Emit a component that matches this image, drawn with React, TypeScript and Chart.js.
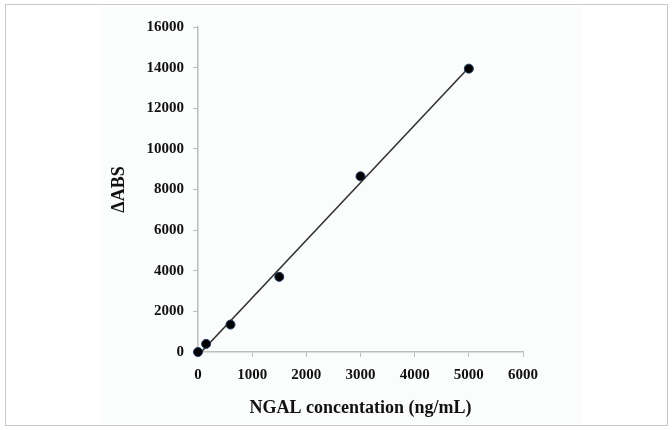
import React, { useEffect, useRef } from "react";
import { Chart, registerables } from "chart.js";

Chart.register(...registerables);

const concentrations = [0, 150, 600, 1500, 3000, 5000];
const absValues = [0, 400, 1350, 3700, 8650, 13950];
const xTickMax = 6000;
const yTickMax = 16000;
const xTitle = "NGAL concentation (ng/mL)";
const yTitle = "\u0394ABS";

function fitLine(xs: number[], ys: number[]) {
  const n = xs.length;
  const mx = xs.reduce((a, b) => a + b, 0) / n;
  const my = ys.reduce((a, b) => a + b, 0) / n;
  let sxy = 0, sxx = 0;
  for (let i = 0; i < n; i++) {
    sxy += (xs[i] - mx) * (ys[i] - my);
    sxx += (xs[i] - mx) * (xs[i] - mx);
  }
  const slope = sxy / sxx;
  const intercept = my - slope * mx;
  return { slope, intercept };
}

export default function App() {
  const ref = useRef<HTMLCanvasElement | null>(null);
  useEffect(() => {
    document.body.style.margin = "0";
    const { slope, intercept } = fitLine(concentrations, absValues);
    const x0 = Math.max(Math.min(...concentrations), -intercept / slope);
    const x1 = Math.max(...concentrations);
    const fit = [
      { x: x0, y: slope * x0 + intercept },
      { x: x1, y: slope * x1 + intercept },
    ];
    const pts = concentrations.map((c, i) => ({ x: c, y: absValues[i] }));
    const tickFont = { family: "'Liberation Serif', 'Times New Roman', serif", size: 15, weight: "bold" as const };
    const titleFont = { family: "'Liberation Serif', 'Times New Roman', serif", size: 18, weight: "bold" as const };
    const plain = (v: any) => String(v);
    const chart = new Chart(ref.current!, {
      type: "scatter",
      data: {
        datasets: [
          {
            type: "scatter",
            data: pts,
            backgroundColor: "#000",
            borderColor: "#1d3658",
            borderWidth: 1,
            pointRadius: 4.5,
            clip: false as any,
          },
          {
            type: "line",
            data: fit,
            borderColor: "#333",
            borderWidth: 1.6,
            pointRadius: 0,
            fill: false,
          },
        ],
      },
      options: {
        animation: false,
        responsive: false,
        events: [],
        layout: { padding: { left: 100, right: 149, top: 27, bottom: 8 } },
        plugins: { legend: { display: false }, tooltip: { enabled: false } },
        scales: {
          x: {
            type: "linear",
            min: 0,
            max: xTickMax,
            ticks: { stepSize: 1000, color: "#111", font: tickFont, padding: 9, maxRotation: 0, callback: plain },
            grid: { drawOnChartArea: false, color: "#bdbdbd", tickLength: 5 },
            border: { color: "#bdbdbd", width: 1.5 },
            title: { display: true, text: xTitle, color: "#111", font: titleFont, padding: { top: 0, bottom: 3 } },
            afterFit: (s: any) => { s.height = 70; },
          },
          y: {
            type: "linear",
            min: 0,
            max: yTickMax,
            ticks: { stepSize: 2000, color: "#111", font: tickFont, padding: 9, callback: plain },
            grid: { drawOnChartArea: false, color: "#bdbdbd", tickLength: 5 },
            border: { color: "#bdbdbd", width: 1.5 },
            title: { display: true, text: yTitle, color: "#111", font: titleFont, padding: { top: 9, bottom: 0 } },
            afterFit: (s: any) => { s.width = 98; },
          },
        },
      },
    });
    return () => chart.destroy();
  }, []);
  return (
    <div style={{ position: "absolute", left: 0, top: 0, width: 672, height: 430, background: "#fff" }}>
      <div style={{ position: "absolute", left: 5, top: 4, width: 663, height: 422, border: "1px solid #c8c8c8", boxSizing: "border-box" }} />
      <div style={{ position: "absolute", left: 100, top: 7, width: 481, height: 417, background: "#fbfcfc" }} />
      <canvas ref={ref} width={672} height={430} style={{ position: "absolute", left: 0, top: 0 }} />
    </div>
  );
}
